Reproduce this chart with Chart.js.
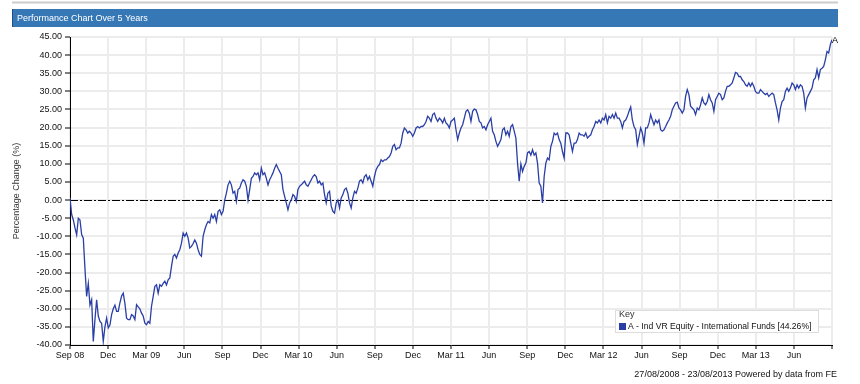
<!DOCTYPE html>
<html>
<head>
<meta charset="utf-8">
<title>Performance Chart Over 5 Years</title>
<script src="https://cdn.jsdelivr.net/npm/chart.js@4.4.1/dist/chart.umd.min.js"></script>
<style>
  html, body { margin: 0; padding: 0; background: #fff; }
  #wrap { width: 860px; height: 384px; position: relative; }
</style>
</head>
<body>
<div id="wrap"><canvas id="perf"></canvas></div>
<script>
// percentage change, sampled about every 4 days, 27/08/2008 -> 23/08/2013
const fundPart1 = [
  0.7, -4, -5.5, -7.7, -9.6, -5, -5.5, -9.5, -10.5, -19,
  -26.6, -23, -29, -27.5, -39, -33, -27.5, -32, -33.5, -34,
  -39, -35, -32.6, -35.3, -34.5, -31.6, -30, -29, -30.7, -30.7,
  -28.4, -26.5, -25.7, -28.5, -32.6, -33, -33, -31.6, -32, -33,
  -28.9, -29.5, -30, -31.2, -32, -34, -34.4, -33.5, -34, -29.3,
  -26.6, -23.8, -23.4, -25.7, -23.4, -23.8, -23, -22.4, -23.4, -22,
  -21.5, -18.3, -15.5, -15, -16, -14.6, -13.7, -11.9, -9.1, -10,
  -9.1, -10.5, -13.2, -12.8, -12, -11, -11.9, -13.7, -15, -15.5,
  -10, -8.2, -6.8, -5.9, -6.3, -4, -5, -4, -5.9, -3.1,
  -2.7, -4, -3.1, 0, 1.9, 4.2, 5.2, 4.2, 1.9, 2.4,
  -0.4, 2.9, 3.3, 4.7, 5.6, 5.2, 3.8, 0, 2.9, 6,
  6.5, 7.5, 7, 7.5, 5.6, 8.8, 7, 7.5, 6, 4.2,
  5.6, 6.5, 7.5, 8.8, 9.8, 8.8, 7.9, 7, 2.9, 1,
  -0.8, -2.7, -0.8, 0, 1.5, 1, -0.4, 2.9, 3.8, 4.2,
  4.7, 5.2, 4.2, 3.8, 4.7, 5.6, 6.5, 7, 6.5, 4.7,
  5.2, 4.2, 4.7, 1.5
];
const fundPart2 = [
  -0.8, 1.9, 2.4, -1.7, -3.1, -3.6, -0.8, 0, -2.2, 0.6,
  1.5, 2.9, 3.3, 1.9, -0.8, -2.2, 0.6, 2.4, 1.9, 3.3,
  5.2, 5.6, 4.7, 6.5, 7, 5.6, 6.5, 5.2, 3.8, 6.5,
  8.4, 9.3, 9.8, 11.1, 10.6, 11.1, 11.1, 11.6, 12, 13,
  14.8, 15.3, 13.9, 14.4, 14.4, 15.7, 18.5, 19.9, 19.4, 18.5,
  19, 18.5, 17.6, 18.5, 19.9, 20.3, 19.9, 20.3, 20.3, 20.8,
  21.7, 23.1, 22.6, 21.7, 23.6, 24, 22.6, 21.7, 22.6, 22.1,
  21.3, 22.6, 21.3, 20.8, 19.9, 21.7, 22.1, 22.6, 19.4, 16.7,
  18.5, 19.9, 20.8, 22.6, 24.5, 24.9, 24, 21.7, 24.5, 25.1,
  24.9, 23.6, 21.7, 21.3, 19.9, 20.3, 19.4, 20.8, 21.7, 22.6,
  19, 18, 16.2, 14.8, 15.7, 16.7, 19.4, 19.9, 18, 19,
  17.6, 20.3, 20.8, 19, 17.1, 10.2, 5.2, 10, 7.9, 9.3,
  10.2, 13, 13.4, 12.4, 13.9, 12.4, 13, 10.2, 4.7, 3.8,
  -0.8, 6.5, 10.2, 11.6, 11.1, 14.8, 16.2, 18.5, 18, 18.5,
  16.7, 15.7, 13.4, 11.6, 18.5, 18.5, 18, 15.7, 13.4, 15.7,
  15.7, 16.7, 18.5, 18
];
const fundPart3 = [
  18, 17.6, 18.5, 17.1, 17.6, 18, 19.4, 20.3, 21.7, 21.3,
  22.1, 21.3, 22.6, 22.1, 23.6, 21.3, 23.1, 22.6, 23.6, 22.6,
  24, 22.6, 22.6, 21.7, 19.9, 21.7, 22.1, 23.1, 24.5, 25.7,
  22.1, 20.3, 19.4, 15.3, 17.6, 19.9, 18.5, 15.7, 19.9, 19.9,
  21.3, 23.6, 22.1, 20.8, 22.1, 21.3, 22.1, 19.4, 19, 19.4,
  20.3, 21.3, 22.1, 23.1, 24.9, 25.9, 26.8, 27, 25.4, 24.9,
  24, 24.9, 28.6, 30.5, 29.1, 25.9, 25.4, 24.9, 23.6, 25.4,
  24.9, 26.3, 28.2, 26.8, 26.3, 27.2, 29.1, 27.7, 26.8, 24.5,
  27.7, 28.6, 29.5, 29.1, 27.7, 28.2, 30, 31.4, 31.4, 31.8,
  32.3, 33.7, 35.2, 35, 34.1, 34.1, 33.2, 32.7, 31.8, 31.4,
  32.3, 31.4, 32.3, 31.4, 30, 29.5, 29.5, 30.5, 30, 29.5,
  29.1, 29.5, 28.6, 29.1, 29.5, 29.1, 26.8, 24.9, 22.1, 25.4,
  27.2, 27.7, 30, 30.9, 30, 30.9, 32.3, 31.8, 30.5, 31.8,
  30.9, 31.8, 31.4, 29.5, 25.4, 28.2, 29.1, 30, 30.9, 33.2,
  33.7, 36, 33.7, 36, 36.4, 36.9, 38.7, 41, 40.6, 42.9,
  44.26
];

const xTickLabels = ['Sep 08', 'Dec', 'Mar 09', 'Jun', 'Sep', 'Dec', 'Mar 10', 'Jun', 'Sep', 'Dec',
  'Mar 11', 'Jun', 'Sep', 'Dec', 'Mar 12', 'Jun', 'Sep', 'Dec', 'Mar 13', 'Jun', ''];
const yTickValues = [-40, -35, -30, -25, -20, -15, -10, -5, 0, 5, 10, 15, 20, 25, 30, 35, 40, 45];

const seriesName = 'A - Ind VR Equity - International Funds [44.26%]';
const seriesTag = 'A';
const chartTitle = 'Performance Chart Over 5 Years';
const footerText = '27/08/2008 - 23/08/2013 Powered by data from FE';

const FONT = "'Liberation Sans', Arial, sans-serif";
const LINE_BLUE = '#2a3fa6';

Chart.defaults.font.family = FONT;
Chart.defaults.font.size = 9;

const values = [...fundPart1, ...fundPart2, ...fundPart3];
const totalMonths = (xTickLabels.length - 1) * 3;
const points = values.map((v, i) => ({ x: i * totalMonths / (values.length - 1), y: v }));

// title bar, zero line, end tag, key box and footer
const frame = {
  id: 'frame',
  beforeDraw(chart) {
    const ctx = chart.ctx;
    ctx.save();
    ctx.fillStyle = '#fff';
    ctx.fillRect(0, 0, chart.width, chart.height);
    ctx.fillStyle = '#cccccc';
    ctx.fillRect(12, 1.5, 826, 2);
    ctx.fillStyle = '#3677b6';
    ctx.fillRect(12, 9, 826, 18);
    ctx.fillStyle = '#1f4f86';
    ctx.fillRect(12, 9, 1, 18);
    ctx.fillStyle = '#fff';
    ctx.font = '9px ' + FONT;
    ctx.textBaseline = 'middle';
    ctx.fillText(chartTitle, 17, 18.5);
    ctx.restore();
  },
  beforeDatasetsDraw(chart) {
    const { ctx, chartArea } = chart;
    const y0 = Math.round(chart.scales.y.getPixelForValue(0)) + 0.5;
    ctx.save();
    ctx.strokeStyle = '#000';
    ctx.lineWidth = 1;
    ctx.setLineDash([8, 2, 2, 2]);
    ctx.beginPath();
    ctx.moveTo(chartArea.left, y0);
    ctx.lineTo(chartArea.right, y0);
    ctx.stroke();
    ctx.restore();
  },
  afterDraw(chart) {
    const ctx = chart.ctx;
    const meta = chart.getDatasetMeta(0);
    const last = meta.data[meta.data.length - 1];
    ctx.save();
    ctx.font = '9px ' + FONT;
    ctx.fillStyle = '#000';
    ctx.textBaseline = 'middle';
    ctx.fillText(seriesTag, last.x, last.y + 0.5);

    // key box
    ctx.fillStyle = '#fff';
    ctx.fillRect(615, 310, 204, 23);
    ctx.strokeStyle = '#dcdcdc';
    ctx.lineWidth = 1;
    ctx.strokeRect(615.5, 310.5, 203, 22);
    ctx.fillStyle = '#333';
    ctx.fillText('Key', 619, 315);
    ctx.fillStyle = chart.data.datasets[0].borderColor;
    ctx.fillRect(619, 323, 7, 7);
    ctx.fillStyle = '#111';
    ctx.font = '8.6px ' + FONT;
    ctx.fillText(chart.data.datasets[0].label, 628, 326.5);

    ctx.font = '9px ' + FONT;
    ctx.textAlign = 'right';
    ctx.fillText(footerText, 837, 375);
    ctx.restore();
  }
};

new Chart(document.getElementById('perf'), {
  type: 'line',
  data: {
    datasets: [{
      label: seriesName,
      data: points,
      borderColor: LINE_BLUE,
      borderWidth: 1.3,
      pointRadius: 0,
      tension: 0,
      fill: false
    }]
  },
  options: {
    responsive: true,
    maintainAspectRatio: false,
    animation: false,
    layout: { padding: { top: 37, right: 28, bottom: 0, left: 0 } },
    plugins: {
      legend: { display: false },
      tooltip: { enabled: false }
    },
    scales: {
      x: {
        type: 'linear',
        min: 0,
        max: totalMonths,
        afterBuildTicks: s => { s.ticks = xTickLabels.map((_, i) => ({ value: i * 3 })); },
        afterFit: s => { s.height = 39; },
        grid: { color: '#ececec', lineWidth: 2, tickColor: '#000', tickWidth: 1, tickLength: 4 },
        border: { color: '#000', width: 1 },
        ticks: {
          autoSkip: false,
          maxRotation: 0,
          padding: 1,
          color: '#111',
          callback: (v, i) => xTickLabels[i]
        }
      },
      y: {
        min: yTickValues[0],
        max: yTickValues[yTickValues.length - 1],
        afterBuildTicks: s => { s.ticks = yTickValues.map(v => ({ value: v })); },
        afterFit: s => { s.width = 70; },
        title: {
          display: true,
          text: 'Percentage Change (%)',
          color: '#333',
          font: { size: 9 },
          padding: { top: 11, bottom: 0 }
        },
        grid: { color: '#ececec', lineWidth: 2, tickColor: '#000', tickWidth: 1, tickLength: 5 },
        border: { color: '#000', width: 1 },
        ticks: {
          padding: 3,
          color: '#111',
          callback: v => v.toFixed(2)
        }
      }
    }
  },
  plugins: [frame]
});
</script>
</body>
</html>
